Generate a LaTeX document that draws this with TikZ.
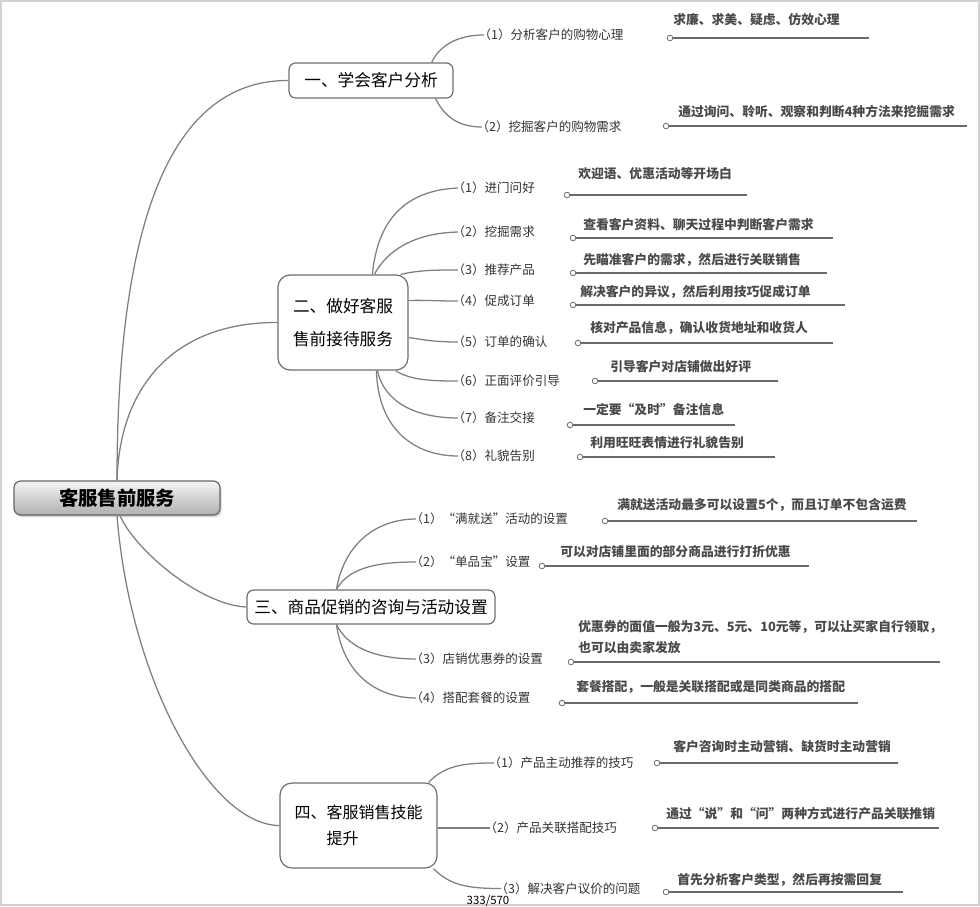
\documentclass[tikz,border=0pt]{standalone}
\usepackage{fontspec}
\setmainfont{Noto Sans CJK SC}
\usetikzlibrary{calc,shadows}
\definecolor{linegray}{HTML}{7F7F7F}
\definecolor{boxgray}{HTML}{6E6E6E}
\definecolor{labcol}{HTML}{333333}
\definecolor{detcol}{HTML}{4A4A4A}
\definecolor{dlinegray}{HTML}{6A6A6A}
\newcommand\lpk{\kern-0.45em}
\begin{document}
\begin{tikzpicture}[x=0.75pt,y=-0.75pt,
  conn/.style={draw=linegray, line width=0.95pt},
  branch/.style={draw=boxgray, line width=0.9pt, rounded corners=5pt, fill=white, inner sep=0pt, font=\fontsize{12.5}{15}\selectfont, text=black},
  rootbox/.style={draw=gray!80!black, line width=0.9pt, rounded corners=5pt, top color=gray!8, bottom color=gray!62, inner sep=0pt, minimum width=154.5pt, minimum height=25.5pt, font=\fontsize{14.5}{16}\selectfont\bfseries, drop shadow={shadow xshift=1.2pt, shadow yshift=-1.6pt, opacity=0.35}},
  lab/.style={anchor=west, inner sep=0pt, font=\fontsize{9.4}{11}\selectfont, text=labcol},
  det/.style={anchor=west, inner sep=0pt, font=\fontsize{9.6}{12}\selectfont\bfseries, text=detcol},
  dot/.style={circle, draw=dlinegray, fill=white, line width=0.6pt, inner sep=0pt, minimum size=4.2pt},
  dline/.style={draw=dlinegray, line width=1.1pt},
]
\useasboundingbox (0,0) rectangle (980,906);
\draw[draw=gray!35, line width=1.4pt] (1,1) rectangle (979,905);

% root
\node[rootbox] (root) at (117,498) {客服售前服务};

% branches
\node[branch, minimum width=123pt, minimum height=26.25pt] (b1) at (371,80.5) {一、学会客户分析};
\node[branch, rounded corners=9pt, minimum width=97.5pt, minimum height=71.25pt, align=center, font=\fontsize{12.5}{24.75}\selectfont] (b2) at (343,322.5) {二、做好客服\\售前接待服务};
\node[branch, minimum width=186pt, minimum height=25.5pt] (b3) at (371,607) {三、商品促销的咨询与活动设置};
\node[branch, rounded corners=9pt, minimum width=117.75pt, minimum height=63.75pt, align=left, font=\fontsize{12}{19.5}\selectfont] (b4) at (358.5,825.5) {四、客服销售技能\\\hspace{2em}提升};

% root connectors
\draw[conn] (root.north) .. controls (117,200) and (180,80) .. (b1.west);
\draw[conn] (root.north) .. controls (120,380) and (180,322) .. (b2.west);
\draw[conn] ($(root.south)+(3,0)$) .. controls (135,550) and (200,605) .. (b3.west);
\draw[conn] (root.south) .. controls (130,680) and (210,825) .. (b4.west);

% ---- branch 1 children
\node[lab] (a1) at (484,35) {\lpk（1）分析客户的购物心理};
\node[lab] (a2) at (482,127) {\lpk（2）挖掘客户的购物需求};
\draw[conn] ($(b1.north east)+(-22,0)$) .. controls (440,45) and (458,35) .. (a1.west);
\draw[conn] ($(b1.south east)+(-18,0)$) .. controls (445,118) and (460,127) .. (a2.west);

\node[dot] (ad1) at (670,38) {};
\coordinate (ae1) at (869,38);
\draw[dline] (ad1.east) -- (ae1);
\node[det] (at1) at (673,20) {求廉、求美、疑虑、仿效心理};
\node[dot] (ad2) at (666,126) {};
\coordinate (ae2) at (967,126);
\draw[dline] (ad2.east) -- (ae2);
\node[det] (at2) at (678,112) {通过询问、聆听、观察和判断4种方法来挖掘需求};

% ---- branch 2 children
\node[lab] (l1) at (458,188) {\lpk（1）进门问好};
\node[lab] (l2) at (458,232) {\lpk（2）挖掘需求};
\node[lab] (l3) at (458,270) {\lpk（3）推荐产品};
\node[lab] (l4) at (458,301) {\lpk（4）促成订单};
\node[lab] (l5) at (458,342) {\lpk（5）订单的确认};
\node[lab] (l6) at (458,381) {\lpk（6）正面评价引导};
\node[lab] (l7) at (458,418) {\lpk（7）备注交接};
\node[lab] (l8) at (458,456) {\lpk（8）礼貌告别};

\draw[conn] ($(b2.north west)+(95,0)$) .. controls (378,215) and (410,190) .. (l1.west);
\draw[conn] ($(b2.north west)+(97,0)$) .. controls (387,250) and (415,233) .. (l2.west);
\draw[conn] ($(b2.north east)+(-8,0)$) .. controls (420,270) and (435,270) .. (l3.west);
\draw[conn] ($(b2.east)+(0,-22)$) .. controls (425,300) and (435,301) .. (l4.west);
\draw[conn] ($(b2.east)+(0,15)$) .. controls (425,340) and (435,342) .. (l5.west);
\draw[conn] ($(b2.south east)+(-13,0)$) .. controls (410,380) and (430,381) .. (l6.west);
\draw[conn] ($(b2.south west)+(100,0)$) .. controls (385,405) and (420,418) .. (l7.west);
\draw[conn] ($(b2.south west)+(99,0)$) .. controls (378,430) and (415,456) .. (l8.west);

\node[dot] (ld1) at (567,195) {}; \coordinate (le1) at (747,195);
\draw[dline] (ld1.east) -- (le1);
\node[det] (lt1) at (578,174) {欢迎语、优惠活动等开场白};
\node[dot] (ld2) at (573,238) {}; \coordinate (le2) at (833,238);
\draw[dline] (ld2.east) -- (le2);
\node[det] (lt2) at (583,225) {查看客户资料、聊天过程中判断客户需求};
\node[dot] (ld3) at (573,273) {}; \coordinate (le3) at (827,273);
\draw[dline] (ld3.east) -- (le3);
\node[det] (lt3) at (583,260) {先瞄准客户的需求，然后进行关联销售};
\node[dot] (ld4) at (573,305) {}; \coordinate (le4) at (845,305);
\draw[dline] (ld4.east) -- (le4);
\node[det] (lt4) at (580,292) {解决客户的异议，然后利用技巧促成订单};
\node[dot] (ld5) at (578,343) {}; \coordinate (le5) at (833,343);
\draw[dline] (ld5.east) -- (le5);
\node[det] (lt5) at (590,328) {核对产品信息，确认收货地址和收货人};
\node[dot] (ld6) at (595,381) {}; \coordinate (le6) at (778,381);
\draw[dline] (ld6.east) -- (le6);
\node[det] (lt6) at (610,367) {引导客户对店铺做出好评};
\node[dot] (ld7) at (570,425) {}; \coordinate (le7) at (735,425);
\draw[dline] (ld7.east) -- (le7);
\node[det] (lt7) at (583,410) {一定要“及时”备注信息};
\node[dot] (ld8) at (580,457) {}; \coordinate (le8) at (775,457);
\draw[dline] (ld8.east) -- (le8);
\node[det] (lt8) at (590,443) {利用旺旺表情进行礼貌告别};

% ---- branch 3 children
\node[lab] (m1) at (416,519) {\lpk（1）“满就送”活动的设置};
\node[lab] (m2) at (416,562) {\lpk（2）“单品宝”设置};
\node[lab] (m3) at (416,659) {\lpk（3）店销优惠券的设置};
\node[lab] (m4) at (416,698) {\lpk（4）搭配套餐的设置};
\draw[conn] ($(b3.north west)+(90,0)$) .. controls (345,540) and (380,519) .. (m1.west);
\draw[conn] ($(b3.north west)+(90,0)$) .. controls (350,565) and (385,562) .. (m2.west);
\draw[conn] ($(b3.south west)+(90,0)$) .. controls (350,652) and (385,659) .. (m3.west);
\draw[conn] ($(b3.south west)+(90,0)$) .. controls (345,682) and (385,698) .. (m4.west);

\node[dot] (md1) at (605,521) {}; \coordinate (me1) at (917,521);
\draw[dline] (md1.east) -- (me1);
\node[det] (mt1) at (617,505) {满就送活动最多可以设置5个，而且订单不包含运费};
\node[dot] (md2) at (542,566) {}; \coordinate (me2) at (809,566);
\draw[dline] (md2.east) -- (me2);
\node[det] (mt2) at (560,552) {可以对店铺里面的部分商品进行打折优惠};
\node[dot] (md3) at (571,662) {}; \coordinate (me3) at (940,662);
\draw[dline] (md3.east) -- (me3);
\node[det, align=left, font=\fontsize{9.6}{15.75}\selectfont\bfseries] (mt3) at (578,637.5) {优惠券的面值一般为3元、5元、10元等，可以让买家自行领取，\\也可以由卖家发放};
\node[dot] (md4) at (562,703) {}; \coordinate (me4) at (858,703);
\draw[dline] (md4.east) -- (me4);
\node[det] (mt4) at (576,687) {套餐搭配，一般是关联搭配或是同类商品的搭配};

% ---- branch 4 children
\node[lab] (n1) at (494,763) {\lpk（1）产品主动推荐的技巧};
\node[lab] (n2) at (490,828) {\lpk（2）产品关联搭配技巧};
\node[lab] (n3) at (501,888.5) {\lpk（3）解决客户议价的问题};
\draw[conn] ($(b4.north east)+(-9,0)$) .. controls (445,765) and (465,763) .. (n1.west);
\draw[conn] ($(b4.east)+(0,2.5)$) -- (n2.west);
\draw[conn] ($(b4.south east)+(-4,0)$) .. controls (450,886) and (470,888.5) .. (n3.west);

\node[dot] (nd1) at (657,763) {}; \coordinate (ne1) at (898,763);
\draw[dline] (nd1.east) -- (ne1);
\node[det] (nt1) at (673,747) {客户咨询时主动营销、缺货时主动营销};
\node[dot] (nd2) at (655,828) {}; \coordinate (ne2) at (939,828);
\draw[dline] (nd2.east) -- (ne2);
\node[det] (nt2) at (666,814) {通过“说”和“问”两种方式进行产品关联推销};
\node[dot] (nd3) at (666,892) {}; \coordinate (ne3) at (903,892);
\draw[dline] (nd3.east) -- (ne3);
\node[det] (nt3) at (677,880) {首先分析客户类型，然后再按需回复};

% page number
\node[inner sep=0pt, font=\fontsize{8.6}{10}\selectfont] (pg) at (488,901) {333/570};
\end{tikzpicture}
\end{document}
